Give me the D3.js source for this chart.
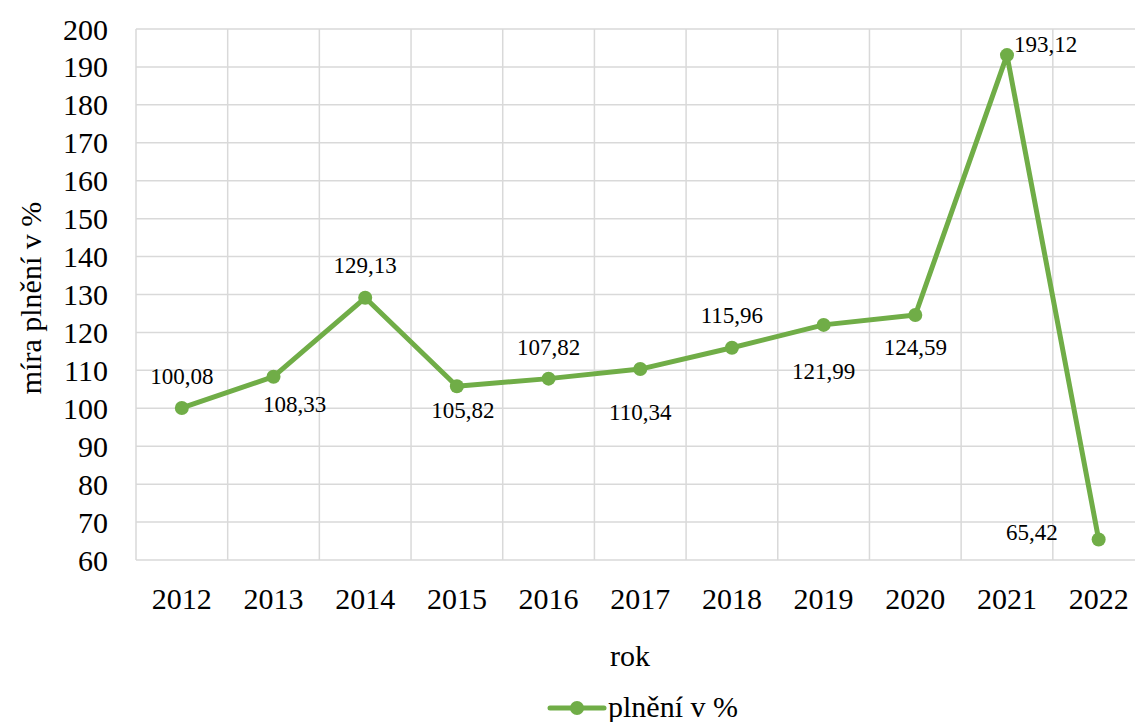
<!DOCTYPE html>
<html>
<head>
<meta charset="utf-8">
<script src="https://cdn.jsdelivr.net/npm/d3@7"></script>
<style>
  html, body { margin: 0; padding: 0; background: #fff; }
  svg { display: block; }
</style>
</head>
<body>
<svg id="chart" width="1135" height="722"></svg>
<script>
const years = ["2012","2013","2014","2015","2016","2017","2018","2019","2020","2021","2022"];
const values = [100.08, 108.33, 129.13, 105.82, 107.82, 110.34, 115.96, 121.99, 124.59, 193.12, 65.42];
const valueLabels = ["100,08","108,33","129,13","105,82","107,82","110,34","115,96","121,99","124,59","193,12","65,42"];
const yTicks = [60,70,80,90,100,110,120,130,140,150,160,170,180,190,200];
const seriesName = "plnění v %";
const xTitle = "rok";
const yTitle = "míra plnění v %";

(function () {
const FONT = "'Liberation Serif', Tinos, 'Times New Roman', 'DejaVu Serif', serif";
// label layout (offsets from point, anchor)
const labelLayout = [
  {dx: 0, dy: -31, a: "middle"},
  {dx: 21, dy: 28, a: "middle"},
  {dx: 0, dy: -32, a: "middle"},
  {dx: 6, dy: 24, a: "middle"},
  {dx: 0, dy: -31, a: "middle"},
  {dx: 0, dy: 43, a: "middle"},
  {dx: 0, dy: -32, a: "middle"},
  {dx: 0, dy: 47, a: "middle"},
  {dx: 0, dy: 32, a: "middle"},
  {dx: 7, dy: -11, a: "start"},
  {dx: -41, dy: -7, a: "end"}
];

const color = "#70AD47";
const svg = d3.select("#chart").style("font-family", FONT);
const pLeft = 136, pRight = 1144.5, pTop = 29, pBottom = 560;

const x = d3.scaleBand().domain(years).range([pLeft, pRight]);
const y = d3.scaleLinear().domain([60, 200]).range([pBottom, pTop]);

const grid = svg.append("g").attr("stroke", "#d9d9d9").attr("stroke-width", 1.5);
yTicks.forEach(t => {
  grid.append("line").attr("x1", pLeft).attr("x2", pRight).attr("y1", y(t)).attr("y2", y(t));
});
years.forEach(yr => {
  grid.append("line").attr("x1", x(yr)).attr("x2", x(yr)).attr("y1", pTop).attr("y2", pBottom);
});
grid.append("line").attr("x1", pRight).attr("x2", pRight).attr("y1", pTop).attr("y2", pBottom);

function txt(sel) {
  return sel.attr("font-family", FONT).attr("fill", "#000");
}

// y tick labels
txt(svg.append("g").selectAll("text").data(yTicks).join("text"))
  .attr("x", 108).attr("y", d => y(d))
  .attr("text-anchor", "end").attr("dominant-baseline", "central")
  .attr("font-size", 30).text(d => d);

// x tick labels
txt(svg.append("g").selectAll("text").data(years).join("text"))
  .attr("x", d => x(d) + x.bandwidth() / 2).attr("y", 598)
  .attr("text-anchor", "middle").attr("dominant-baseline", "central")
  .attr("font-size", 30).text(d => d);

// axis titles
txt(svg.append("text")).attr("x", 630).attr("y", 655)
  .attr("text-anchor", "middle").attr("dominant-baseline", "central")
  .attr("font-size", 30).text(xTitle);
txt(svg.append("text")).attr("transform", "translate(30,298) rotate(-90)")
  .attr("text-anchor", "middle").attr("dominant-baseline", "central")
  .attr("font-size", 30).text(yTitle);

// line
const pts = years.map((yr, i) => [x(yr) + x.bandwidth() / 2, y(values[i])]);
svg.append("path").datum(pts)
  .attr("d", d3.line())
  .attr("fill", "none").attr("stroke", color).attr("stroke-width", 5)
  .attr("stroke-linejoin", "round").attr("stroke-linecap", "round");

svg.append("g").selectAll("circle").data(pts).join("circle")
  .attr("cx", d => d[0]).attr("cy", d => d[1]).attr("r", 7)
  .attr("fill", color);

// data labels
txt(svg.append("g").selectAll("text").data(pts).join("text"))
  .attr("x", (d, i) => d[0] + labelLayout[i].dx)
  .attr("y", (d, i) => d[1] + labelLayout[i].dy)
  .attr("text-anchor", (d, i) => labelLayout[i].a)
  .attr("dominant-baseline", "central")
  .attr("font-size", 23).text((d, i) => valueLabels[i]);

// legend
const lg = svg.append("g");
lg.append("line").attr("x1", 550).attr("x2", 604).attr("y1", 708).attr("y2", 708)
  .attr("stroke", color).attr("stroke-width", 5).attr("stroke-linecap", "round");
lg.append("circle").attr("cx", 577).attr("cy", 708).attr("r", 7).attr("fill", color);
txt(lg.append("text")).attr("x", 608).attr("y", 706).attr("dominant-baseline", "central")
  .attr("font-size", 30).text(seriesName);
})();
</script>
</body>
</html>
